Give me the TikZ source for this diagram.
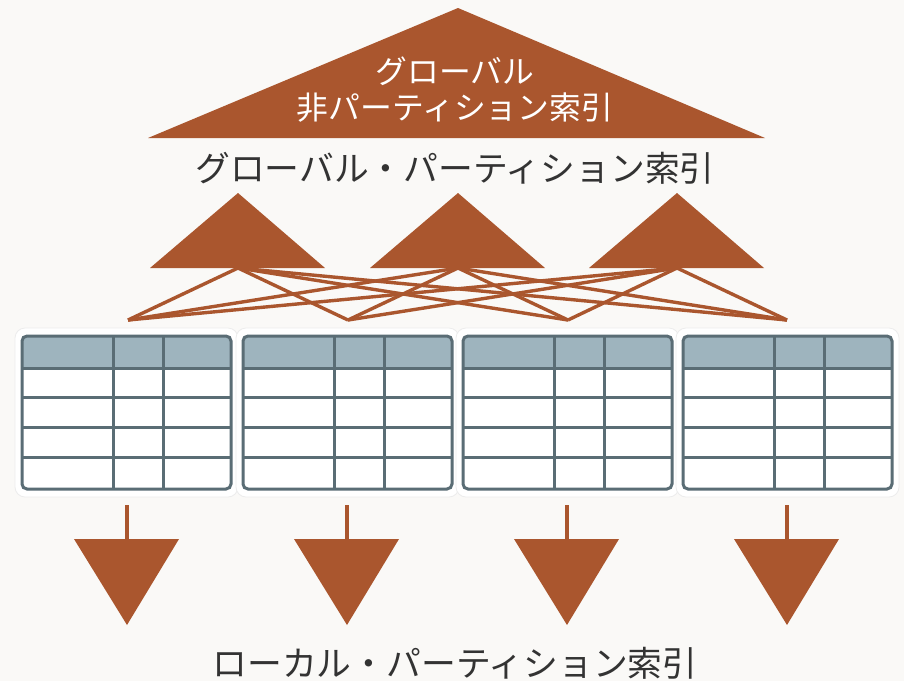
\documentclass[tikz,border=0pt]{standalone}
\usepackage{fontspec}
\newfontfamily\jp{Noto Sans CJK JP}
\definecolor{bg}{HTML}{FAF9F7}
\definecolor{rust}{HTML}{AA562E}
\definecolor{slate}{HTML}{5A6D75}
\definecolor{hdr}{HTML}{9EB4BE}
\definecolor{txt}{HTML}{333333}
\definecolor{cardedge}{HTML}{ECECEC}
\tikzset{
  tri/.style={fill=rust},
  link/.style={draw=rust, line width=3.4pt},
  grid/.style={draw=slate, line width=3pt},
  card/.style={fill=white, draw=cardedge, line width=0.8pt, rounded corners=10pt},
  stem/.style={draw=rust, line width=3.3pt},
  lbl/.style={inner sep=0pt, font=\jp\fontsize{34.8}{40}\selectfont, text=txt},
  wlbl/.style={inner sep=0pt, font=\jp\fontsize{31.8}{36}\selectfont, text=white, align=center},
}
\begin{document}
\begin{tikzpicture}[x=1pt,y=-1pt]
\fill[bg] (0,0) rectangle (904,681);
\useasboundingbox (0,0) rectangle (904,681);

% top non-partitioned triangle
\fill[tri] (148,138) -- (458,8) -- (765,138) -- cycle;
\node[wlbl] (gnp) at (455,90) {グローバル\\非パーティション索引};

\node[lbl] (gp) at (455,168) {グローバル・パーティション索引};

% three partition triangles
\foreach \x/\n in {238/a,458/b,677/c}{
  \fill[tri] (\x-88,268) -- (\x,193) -- (\x+87,268) -- cycle;
  \coordinate (t\n) at (\x,268);
}
% bottom points
\foreach \x/\n in {128/1,348/2,568/3,787/4}{
  \coordinate (b\n) at (\x,320);
}
\foreach \t in {a,b,c}{
  \foreach \b in {1,2,3,4}{
    \draw[link] (t\t) -- (b\b);
  }
}

% tables
\foreach \dx in {0,221,441,661}{
\begin{scope}[xshift=\dx pt]
  \draw[card] (15,328) rectangle (238,497);
  \fill[hdr, rounded corners=5pt] (22,336) rectangle (231,380);
  \fill[white] (22,368) rectangle (231,484);
  \foreach \yy in {368,397,427,457}{
    \draw[grid] (22,\yy) -- (231,\yy);
  }
  \foreach \xx in {113,163}{
    \draw[grid] (\xx,336) -- (\xx,489);
  }
  \draw[grid, rounded corners=5pt] (22,336) rectangle (231,489);
\end{scope}
}

% local index arrows
\foreach \x/\n in {127/1,347/2,567/3,787/4}{
  \coordinate (s\n) at (\x,505);
  \coordinate (e\n) at (\x,540);
  \draw[stem] (s\n) -- (e\n);
  \fill[tri] (\x-53,539) -- (\x+52,539) -- (\x,625) -- cycle;
}

\node[lbl] (lp) at (455,663) {ローカル・パーティション索引};
\end{tikzpicture}
\end{document}
